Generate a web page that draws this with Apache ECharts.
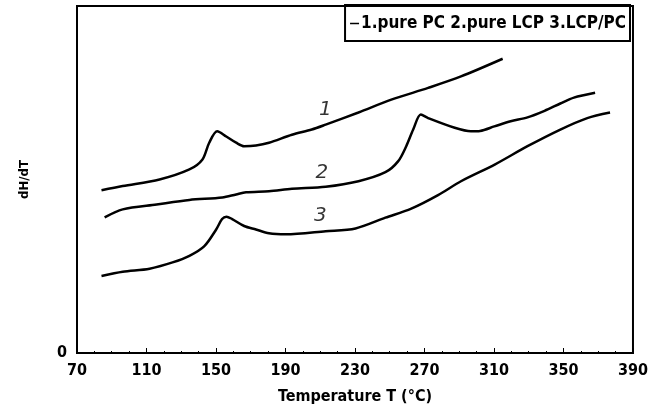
<!DOCTYPE html>
<html>
<head>
<meta charset="utf-8">
<script src="https://cdn.jsdelivr.net/npm/echarts@6/dist/echarts.min.js"></script>
<style>
html,body{margin:0;padding:0;background:#fff;}
#c{width:651px;height:415px;}
</style>
</head>
<body>
<div id="c"></div>
<script>
// Curve 1: pure PC
const pc_T = [84.1, 96.3, 117.5, 134.7, 142.1, 146.1, 150.7, 155.9, 161.6, 166.2, 173.0, 180.5, 193.7, 205.1, 213.1, 232.0, 250.9, 272.1, 291.0, 315.0];
const pc_Y = [4.69, 4.81, 5.00, 5.29, 5.57, 6.06, 6.39, 6.24, 6.06, 5.96, 5.98, 6.06, 6.29, 6.44, 6.58, 6.93, 7.30, 7.64, 7.97, 8.48];
// Curve 2: pure LCP
const lcp_T = [85.9, 96.3, 115.8, 134.7, 153.6, 161.6, 167.3, 180.5, 193.7, 213.1, 232.0, 247.5, 254.9, 259.5, 263.5, 267.9, 272.1, 287.4, 296.7, 302.0, 310.2, 319.6, 329.3, 339.1, 348.2, 356.0, 368.2];
const lcp_Y = [3.91, 4.14, 4.28, 4.41, 4.48, 4.57, 4.63, 4.66, 4.73, 4.79, 4.95, 5.21, 5.53, 5.96, 6.44, 6.87, 6.77, 6.49, 6.39, 6.40, 6.53, 6.68, 6.79, 6.98, 7.19, 7.36, 7.50];
// Curve 3: LCP/PC blend
const blend_T = [84.1, 96.3, 111.8, 125.0, 134.7, 143.3, 150.1, 153.5, 156.0, 159.3, 166.2, 173.0, 180.5, 190.2, 213.1, 230.3, 247.5, 262.4, 277.8, 291.0, 310.4, 329.3, 348.2, 363.7, 376.8];
const blend_Y = [2.22, 2.34, 2.43, 2.61, 2.80, 3.08, 3.56, 3.86, 3.93, 3.86, 3.66, 3.56, 3.45, 3.42, 3.51, 3.59, 3.90, 4.16, 4.55, 4.95, 5.43, 5.96, 6.44, 6.77, 6.93];
// Curve number labels
const labelText = ['1', '2', '3'];
const labelT = [213, 211, 210];
const labelY = [7.01, 5.20, 3.94];
const legendText = '1.pure PC 2.pure LCP 3.LCP/PC';
const xTicks = [70, 110, 150, 190, 230, 270, 310, 350, 390];

const zip = (a, b) => a.map((v, i) => [v, b[i]]);
const FONT = '"DejaVu Sans Condensed", "Liberation Sans Narrow", "Liberation Sans", sans-serif';
const lineStyle = {color: '#000', width: 2.5};

const chart = echarts.init(document.getElementById('c'));
chart.setOption({
  animation: false,
  backgroundColor: '#fff',
  grid: {left: 77, right: 15, top: 6, bottom: 62, show: true, borderColor: '#000', borderWidth: 2},
  legend: {
    data: ['1.pure PC'],
    right: 21, top: 5,
    padding: [10, 4, 9, 5],
    borderColor: '#000', borderWidth: 2,
    icon: 'rect', itemWidth: 9, itemHeight: 1.5, itemGap: 2,
    formatter: () => legendText,
    textStyle: {fontFamily: FONT, fontWeight: 'bold', fontSize: 17, color: '#000', padding: [0, 0, 0, -3]}
  },
  xAxis: {
    type: 'value', min: 70, max: 390, interval: 40,
    name: 'Temperature T (°C)', nameLocation: 'middle', nameGap: 36,
    nameTextStyle: {fontFamily: FONT, fontWeight: 'bold', fontSize: 16, color: '#000'},
    axisLine: {lineStyle: {color: '#000', width: 2}},
    axisTick: {inside: true, length: 5, lineStyle: {color: '#000'}},
    minorTick: {show: true, splitNumber: 4, length: 2, lineStyle: {color: '#000'}},
    splitLine: {show: false},
    axisLabel: {fontFamily: FONT, fontWeight: 'bold', fontSize: 16, color: '#000', margin: 10,
      formatter: v => xTicks.includes(v) ? String(v) : ''}
  },
  yAxis: {
    type: 'value', min: 0, max: 10, interval: 10,
    name: 'dH/dT', nameLocation: 'middle', nameGap: 46,
    nameTextStyle: {fontFamily: FONT, fontWeight: 'bold', fontSize: 13, color: '#000'},
    axisLine: {lineStyle: {color: '#000', width: 2}},
    axisTick: {show: false},
    splitLine: {show: false},
    axisLabel: {fontFamily: FONT, fontWeight: 'bold', fontSize: 16, color: '#000', margin: 10,
      formatter: v => v === 0 ? '0' : ''}
  },
  series: [
    {name: '1.pure PC', type: 'line', data: zip(pc_T, pc_Y), smooth: 0.3, symbol: 'none', lineStyle, itemStyle: {color: '#000'}},
    {name: '2.pure LCP', type: 'line', data: zip(lcp_T, lcp_Y), smooth: 0.3, symbol: 'none', lineStyle, itemStyle: {color: '#000'}},
    {name: '3.LCP/PC', type: 'line', data: zip(blend_T, blend_Y), smooth: 0.3, symbol: 'none', lineStyle, itemStyle: {color: '#000'}},
    {name: 'labels', type: 'scatter', symbolSize: 0, silent: true,
      data: labelText.map((t, i) => ({value: [labelT[i], labelY[i]], name: t})),
      label: {show: true, position: 'inside', formatter: p => p.name,
        fontFamily: '"DejaVu Sans", sans-serif', fontStyle: 'italic', fontSize: 20, color: '#000'}}
  ]
});
</script>
</body>
</html>
